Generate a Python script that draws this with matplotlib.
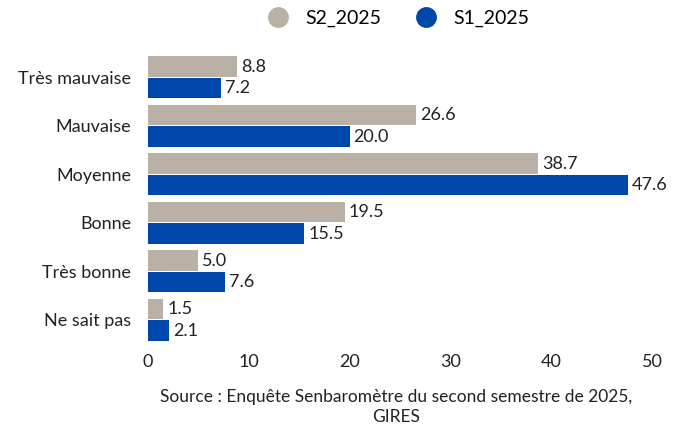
import numpy as np
import matplotlib.pyplot as plt
from matplotlib.lines import Line2D

plt.rcParams['font.family'] = ['Lato', 'DejaVu Sans']

categories = ['Très mauvaise', 'Mauvaise', 'Moyenne', 'Bonne', 'Très bonne', 'Ne sait pas']
s2_2025 = [8.8, 26.6, 38.7, 19.5, 5.0, 1.5]
s1_2025 = [7.2, 20.0, 47.6, 15.5, 7.6, 2.1]

c_s2 = '#BBB0A5'
c_s1 = '#0047AB'
txt = '#222222'

fig = plt.figure(figsize=(6.84, 4.28), dpi=100)
ax = fig.add_axes([0.2164, 0.196, 0.7368, 0.68])

y = np.arange(len(categories))
h = 0.42
off = 0.22
b2 = ax.barh(y - off, s2_2025, height=h, color=c_s2)
b1 = ax.barh(y + off, s1_2025, height=h, color=c_s1)

for bars, vals in ((b2, s2_2025), (b1, s1_2025)):
    for bar, v in zip(bars, vals):
        ax.text(bar.get_width() + 0.4, bar.get_y() + bar.get_height() / 2, f'{v:.1f}',
                va='center', ha='left', fontsize=13, color=txt)

ax.set_xlim(0, 50)
ax.set_ylim(len(categories) - 0.5, -0.5)
ax.set_yticks(y)
ax.set_yticklabels(categories, fontsize=13, color=txt)
ax.set_xticks([0, 10, 20, 30, 40, 50])
ax.tick_params(axis='x', labelsize=13, colors=txt, length=0, pad=7)
ax.tick_params(axis='y', length=0, pad=12)
for s in ax.spines.values():
    s.set_visible(False)

handles = [Line2D([], [], marker='o', ls='', color=c_s2, markersize=14),
           Line2D([], [], marker='o', ls='', color=c_s1, markersize=14)]
fig.legend(handles, ['S2_2025', 'S1_2025'], loc='center', bbox_to_anchor=(0.576, 0.957),
           ncol=2, frameon=False, fontsize=14, handletextpad=0.4, columnspacing=1.3)

fig.text(0.579, 0.05, 'Source : Enquête Senbaromètre du second semestre de 2025,\nGIRES',
         ha='center', va='center', fontsize=12.5, color=txt, linespacing=1.3)

fig.savefig('out.png', dpi=100)
